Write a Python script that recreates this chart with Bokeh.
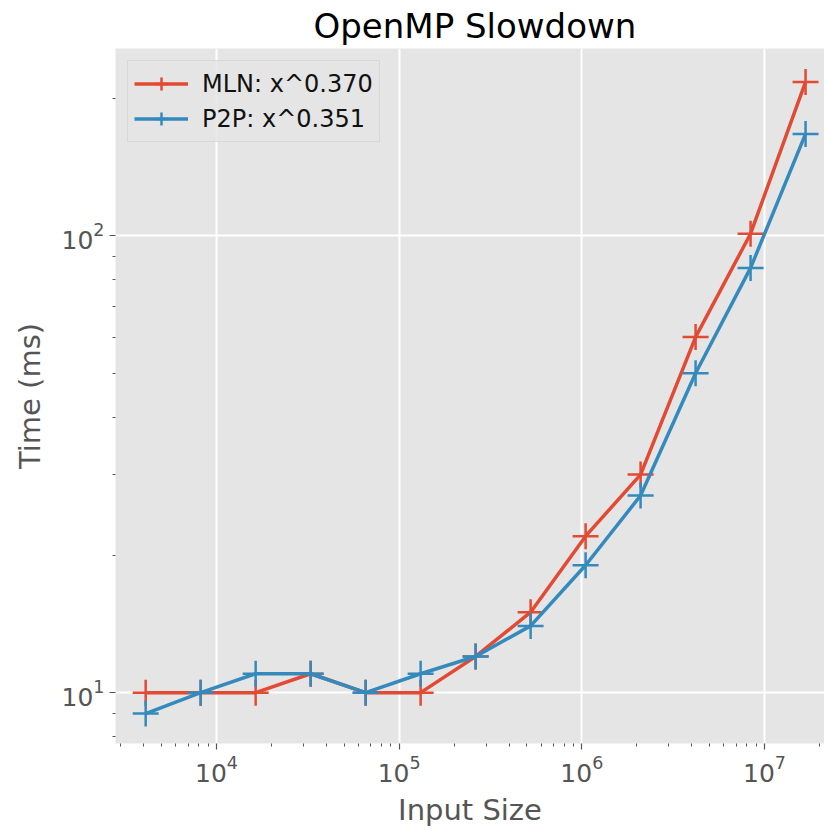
from bokeh.plotting import figure
from bokeh.models import ColumnDataSource, FixedTicker, Legend, LegendItem
from bokeh.embed import file_html
from bokeh.resources import INLINE

# Benchmark data: input size vs. run time (ms)
input_sizes = [4096, 8192, 16384, 32768, 65536, 131072, 262144,
               524288, 1048576, 2097152, 4194304, 8388608, 16777216]
mln_times = [10, 10, 10, 11, 10, 10, 12, 15, 22, 30, 60, 101, 217]
p2p_times = [9, 10, 11, 11, 10, 11, 12, 14, 19, 27, 50, 85, 167]

mln_label = "MLN: x^0.370"
p2p_label = "P2P: x^0.351"

x_major = [1e4, 1e5, 1e6, 1e7]
x_minor = [m * 10 ** e for e in range(3, 8) for m in range(2, 10)]
y_major = [10, 100]
y_minor = [8, 9, 20, 30, 40, 50, 60, 70, 80, 90, 200]

RED = "#E24A33"
BLUE = "#348ABD"
TICK_GREY = "#555555"
FONT = "DejaVu Sans"

src = ColumnDataSource(dict(x=input_sizes, mln=mln_times, p2p=p2p_times))

p = figure(width=824, height=831, x_axis_type="log", y_axis_type="log",
           x_range=(2800, 2.13e7), y_range=(7.74, 256.8),
           output_backend="svg", toolbar_location=None,
           min_border_left=115, min_border_right=0,
           min_border_top=45, min_border_bottom=88)

p.background_fill_color = "#E5E5E5"
p.border_fill_color = "white"
p.outline_line_color = None

# title, centred over the full (uncropped) axes area
p.title.text = "OpenMP Slowdown"
p.title.align = "left"
p.title.offset = 198
p.title.standoff = 6
p.title.text_font = FONT
p.title.text_font_size = "34px"
p.title.text_font_style = "normal"
p.title.text_color = "black"

# series
l1 = p.line("x", "mln", source=src, color=RED, line_width=3.5)
m1 = p.scatter("x", "mln", source=src, marker="cross", size=26,
               line_color=RED, line_width=2.5)
l2 = p.line("x", "p2p", source=src, color=BLUE, line_width=3.5)
m2 = p.scatter("x", "p2p", source=src, marker="cross", size=26,
               line_color=BLUE, line_width=2.5)

legend = Legend(items=[LegendItem(label=mln_label, renderers=[l1, m1]),
                       LegendItem(label=p2p_label, renderers=[l2, m2])],
                location="top_left")
legend.margin = 12
legend.padding = 6
legend.spacing = 2
legend.glyph_width = 54
legend.glyph_height = 33
legend.label_height = 33
legend.label_text_font = FONT
legend.label_text_font_size = "24px"
legend.label_text_color = "#111111"
legend.label_standoff = 14
legend.background_fill_color = "#E5E5E5"
legend.background_fill_alpha = 0.85
legend.border_line_color = "#CCCCCC"
legend.border_line_width = 1
p.add_layout(legend)

# axes
p.xaxis.ticker = FixedTicker(ticks=x_major, minor_ticks=x_minor)
p.yaxis.ticker = FixedTicker(ticks=y_major, minor_ticks=y_minor)

for ax in (p.xaxis, p.yaxis):
    ax.axis_line_color = None
    ax.major_tick_in = 0
    ax.major_tick_out = 6
    ax.minor_tick_in = 0
    ax.minor_tick_out = 3
    ax.major_tick_line_color = TICK_GREY
    ax.minor_tick_line_color = TICK_GREY
    ax.major_tick_line_width = 1.2
    ax.minor_tick_line_width = 1
    ax.major_label_text_font = FONT
    ax.major_label_text_font_size = "25px"
    ax.major_label_text_color = TICK_GREY
    ax.axis_label_text_font = FONT
    ax.axis_label_text_font_size = "29px"
    ax.axis_label_text_font_style = "normal"
    ax.axis_label_text_color = TICK_GREY
    ax.major_label_standoff = 5

p.xaxis.axis_label = "Input Size"
p.yaxis.axis_label = "Time (ms)"
p.xaxis.axis_label_standoff = 8
p.yaxis.axis_label_standoff = 12

# grid
for g in (p.xgrid, p.ygrid):
    g.grid_line_color = "white"
    g.grid_line_width = 2
p.xgrid.ticker = FixedTicker(ticks=x_major)
p.ygrid.ticker = FixedTicker(ticks=y_major)

open("out.html", "w").write(file_html(p, INLINE))
